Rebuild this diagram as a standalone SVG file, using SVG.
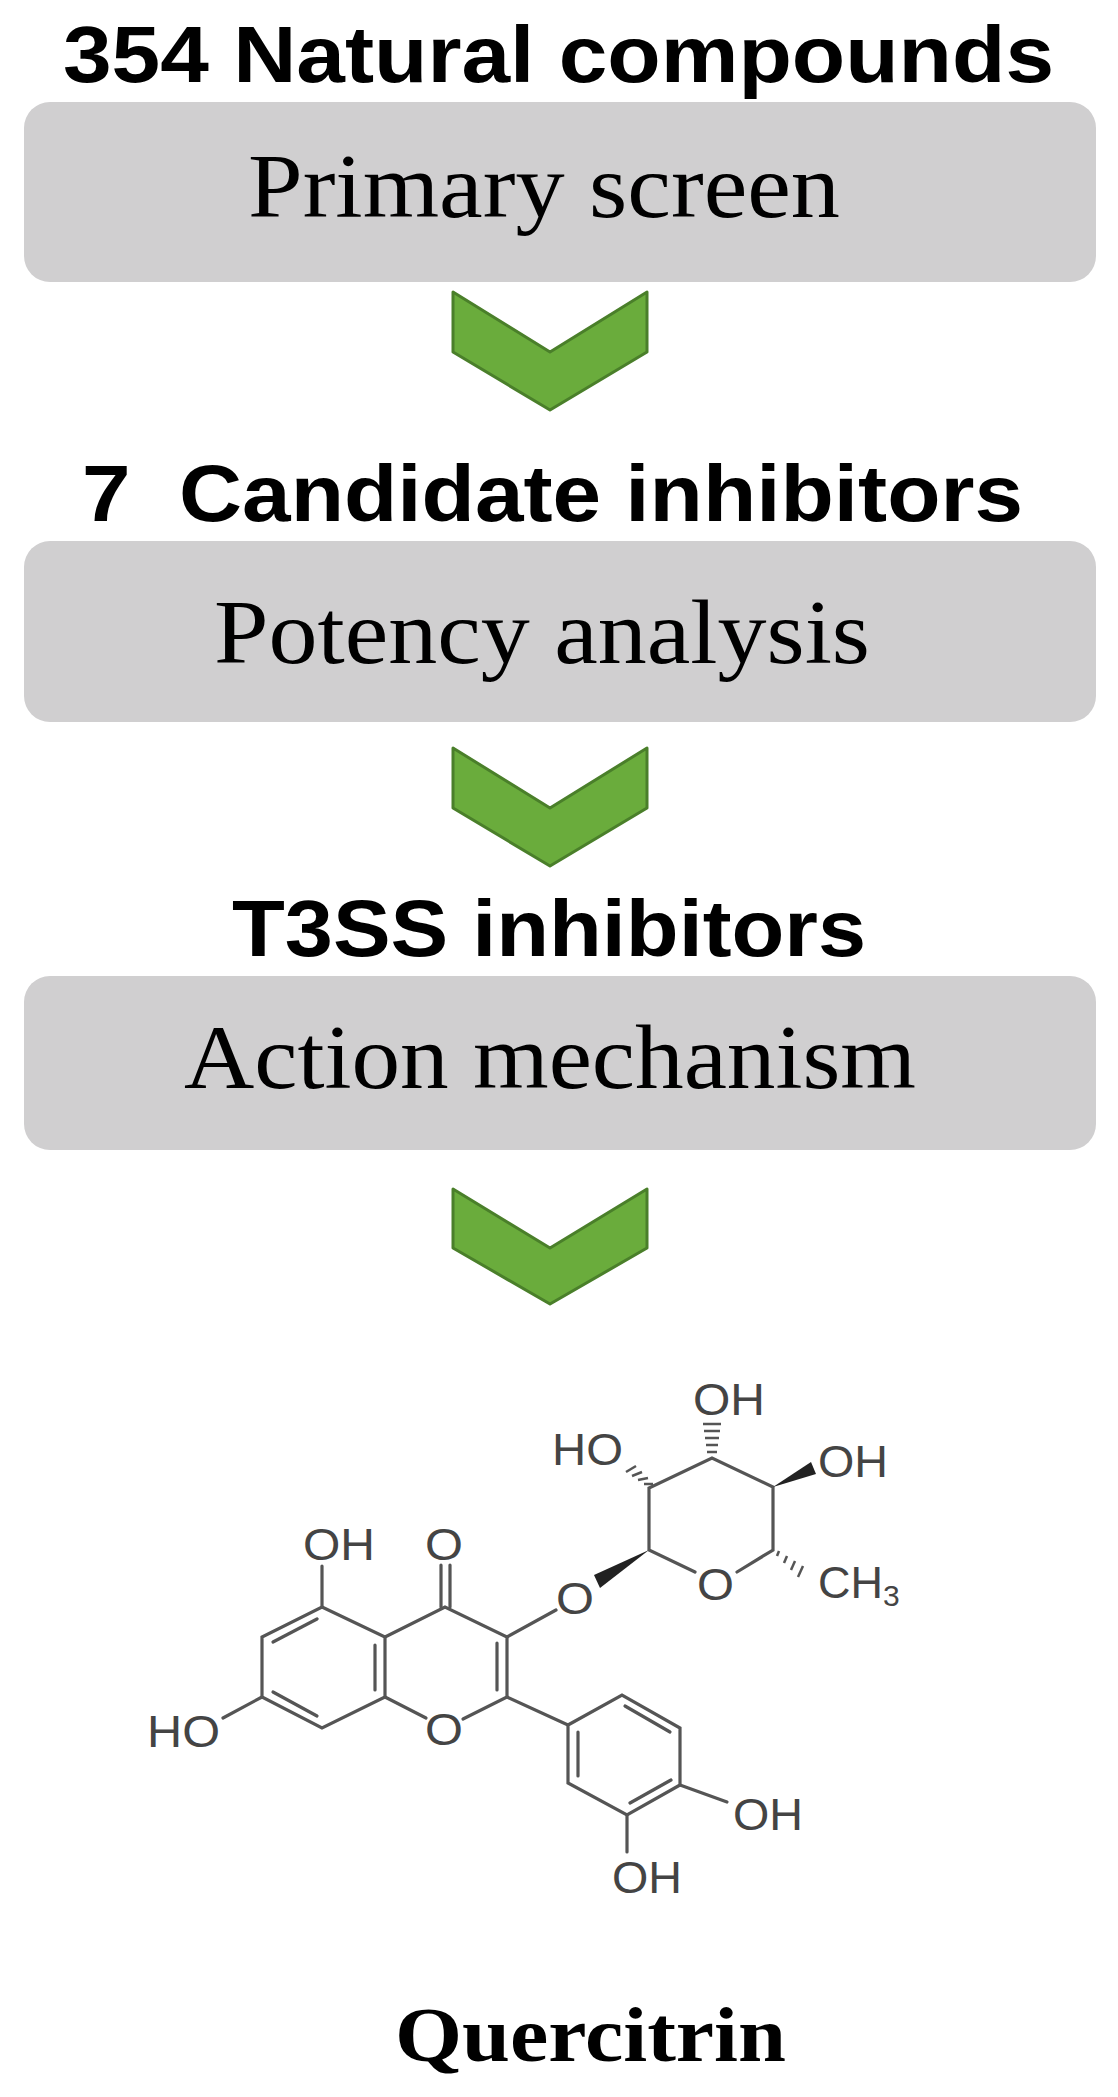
<svg xmlns="http://www.w3.org/2000/svg" width="1118" height="2097" viewBox="0 0 1118 2097">
<style>
.t{font-family:"Liberation Sans",Arial,sans-serif;font-weight:bold;font-size:80px;fill:#000}
.b{font-family:"Liberation Serif","Times New Roman",serif;font-size:90px;fill:#000}
.box{fill:#d0cfd0}
.chev{fill:#6aac3c;stroke:#4a7f2a;stroke-width:3;stroke-linejoin:round}
.bd{stroke:#555;stroke-width:3.2;fill:none;stroke-linecap:round}
.hs{stroke:#555;stroke-width:2.5}
.w{fill:#222}
.a{font-family:"Liberation Sans",Arial,sans-serif;font-size:45px;fill:#444}
.q{font-family:"Liberation Serif","Times New Roman",serif;font-weight:bold;font-size:78px;fill:#000}
</style>
<rect width="1118" height="2097" fill="#fff"/>
<g id="step1">
<text class="t" x="63" y="82" textLength="991" lengthAdjust="spacingAndGlyphs">354 Natural compounds</text>
<rect class="box" x="24" y="102" width="1072" height="180" rx="26"/>
<text class="b" x="248" y="217" textLength="592" lengthAdjust="spacingAndGlyphs">Primary screen</text>
</g>
<g id="step2">
<text class="t" x="82" y="521" textLength="941" lengthAdjust="spacingAndGlyphs">7&#160; Candidate inhibitors</text>
<rect class="box" x="24" y="541" width="1072" height="181" rx="26"/>
<text class="b" x="214" y="663" textLength="656" lengthAdjust="spacingAndGlyphs">Potency analysis</text>
</g>
<g id="step3">
<text class="t" x="232" y="956" textLength="634" lengthAdjust="spacingAndGlyphs">T3SS inhibitors</text>
<rect class="box" x="24" y="976" width="1072" height="174" rx="26"/>
<text class="b" x="184" y="1088" textLength="732" lengthAdjust="spacingAndGlyphs">Action mechanism</text>
</g>
<g id="connectors">
<polygon class="chev" points="453,292 550,352 647,292 647,352 550,410 453,352"/>
<polygon class="chev" points="453,748 550,808 647,748 647,808 550,866 453,808"/>
<polygon class="chev" points="453,1189 550,1248 647,1189 647,1248 550,1304 453,1248"/>
</g>
<g id="quercitrin">
<path class="bd" d="M322,1607 L385,1637 L385,1697 L322,1728 L262,1697 L262,1637 Z"/>
<line class="bd" x1="273" y1="1642" x2="317" y2="1619"/>
<line class="bd" x1="375" y1="1645" x2="375" y2="1690"/>
<line class="bd" x1="273" y1="1692" x2="317" y2="1716"/>
<path class="bd" d="M385,1637 L445,1607 L507,1637 L507,1697 L463,1719"/>
<line class="bd" x1="385" y1="1697" x2="426" y2="1718"/>
<line class="bd" x1="497" y1="1643" x2="497" y2="1690"/>
<line class="bd" x1="441" y1="1607" x2="441" y2="1565"/>
<line class="bd" x1="450" y1="1607" x2="450" y2="1565"/>
<line class="bd" x1="322" y1="1607" x2="322" y2="1566"/>
<line class="bd" x1="262" y1="1697" x2="223" y2="1718"/>
<line class="bd" x1="507" y1="1637" x2="556" y2="1610"/>
<line class="bd" x1="507" y1="1697" x2="568" y2="1725"/>
<path class="bd" d="M568,1725 L622,1695 L680,1728 L680,1785 L627,1815 L568,1783 Z"/>
<line class="bd" x1="578" y1="1732" x2="578" y2="1776"/>
<line class="bd" x1="625" y1="1706" x2="670" y2="1732"/>
<line class="bd" x1="630" y1="1803" x2="671" y2="1780"/>
<line class="bd" x1="680" y1="1785" x2="727" y2="1802"/>
<line class="bd" x1="627" y1="1815" x2="627" y2="1852"/>
<polygon class="w" points="649,1550 594,1575 600,1588"/>
<path class="bd" d="M695,1572 L649,1550 L649,1488 L712,1458 L773,1487 L773,1550 L737,1572"/>
<polygon class="w" points="773,1487 811,1462 816,1474"/>
<g class="hs">
<line x1="644" y1="1484" x2="653" y2="1484"/><line x1="638" y1="1480" x2="648" y2="1478"/><line x1="632" y1="1476" x2="642" y2="1472"/><line x1="626" y1="1472" x2="636" y2="1466"/>
<line x1="707" y1="1452" x2="717" y2="1452"/><line x1="706" y1="1445" x2="718" y2="1445"/><line x1="705" y1="1438" x2="719" y2="1438"/><line x1="704" y1="1431" x2="720" y2="1431"/><line x1="703" y1="1424" x2="721" y2="1424"/>
<line x1="779" y1="1551" x2="777" y2="1556"/><line x1="787" y1="1556" x2="784" y2="1563"/><line x1="795" y1="1561" x2="791" y2="1570"/><line x1="803" y1="1566" x2="798" y2="1577"/>
</g>
<text class="a" x="303" y="1560" textLength="72" lengthAdjust="spacingAndGlyphs">OH</text>
<text class="a" x="425" y="1560" textLength="38" lengthAdjust="spacingAndGlyphs">O</text>
<text class="a" x="425" y="1745" textLength="38" lengthAdjust="spacingAndGlyphs">O</text>
<text class="a" x="147" y="1747" textLength="73" lengthAdjust="spacingAndGlyphs">HO</text>
<text class="a" x="556" y="1614" textLength="38" lengthAdjust="spacingAndGlyphs">O</text>
<text class="a" x="697" y="1600" textLength="37" lengthAdjust="spacingAndGlyphs">O</text>
<text class="a" x="552" y="1465" textLength="71" lengthAdjust="spacingAndGlyphs">HO</text>
<text class="a" x="693" y="1415" textLength="72" lengthAdjust="spacingAndGlyphs">OH</text>
<text class="a" x="818" y="1477" textLength="70" lengthAdjust="spacingAndGlyphs">OH</text>
<text class="a" x="818" y="1598">CH<tspan font-size="30" dy="8">3</tspan></text>
<text class="a" x="733" y="1830" textLength="70" lengthAdjust="spacingAndGlyphs">OH</text>
<text class="a" x="612" y="1893" textLength="70" lengthAdjust="spacingAndGlyphs">OH</text>
<text class="q" x="395" y="2061" textLength="391" lengthAdjust="spacingAndGlyphs">Quercitrin</text>
</g>
</svg>
